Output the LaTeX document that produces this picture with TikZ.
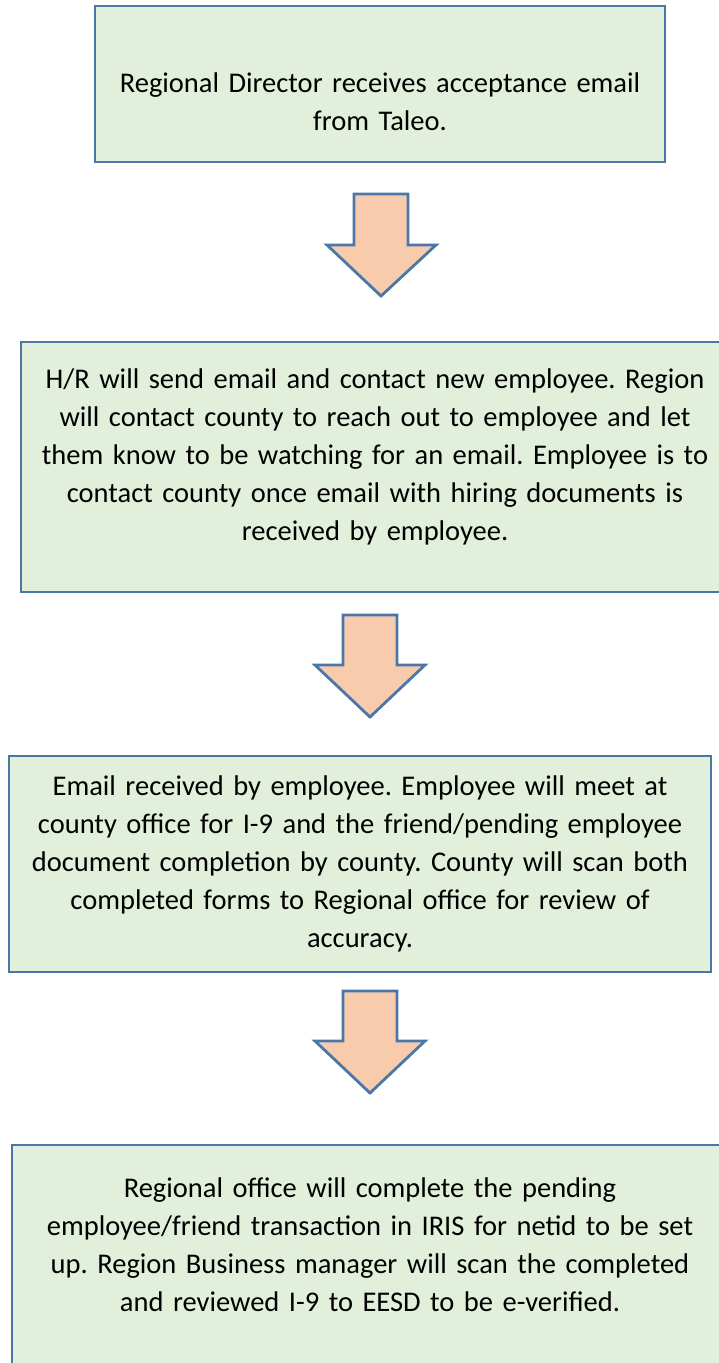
\documentclass[tikz,border=0pt]{standalone}
\usepackage{fontspec}
\setmainfont{Carlito}
\frenchspacing
\definecolor{boxfill}{HTML}{E2EFDA}
\definecolor{boxline}{HTML}{4A76A8}
\definecolor{arrfill}{HTML}{F8CBAD}
\tikzset{
  stepbox/.style={draw=boxline, fill=boxfill, line width=2.5pt},
  blockarrow/.style={draw=boxline, fill=arrfill, line width=2.8pt, line join=miter},
  steptext/.style={anchor=base, text width=700pt, align=center, inner sep=0pt,
    font=\fontsize{28.5}{38}\selectfont\frenchspacing},
}
\begin{document}
\begin{tikzpicture}[x=1pt, y=-1pt]
\useasboundingbox (0,0) rectangle (718,1363);
% boxes
\draw[stepbox] (95,6) rectangle (665,162);
\node[steptext] (t1) at (380,92) {Regional Director receives acceptance email\\from Taleo.};
\draw[stepbox] (21,342) rectangle (729,592);
\node[steptext] (t2) at (375,388) {H/R will send email and contact new employee. Region\\will contact county to reach out to employee and let\\them know to be watching for an email. Employee is to\\contact county once email with hiring documents is\\received by employee.};
\draw[stepbox] (9,756) rectangle (711,972);
\node[steptext] (t3) at (360,795) {Email received by employee. Employee will meet at\\county office for I-9 and the friend/pending employee\\document completion by county. County will scan both\\completed forms to Regional office for review of\\accuracy.};
\draw[stepbox] (12,1145) rectangle (728,1400);
\node[steptext] (t4) at (370,1197) {Regional office will complete the pending\\employee/friend transaction in IRIS for netid to be set\\up. Region Business manager will scan the completed\\and reviewed I-9 to EESD to be e-verified.};
% block arrows
\draw[blockarrow] (354,194) -- (408,194) -- (408,245) -- (436,245) -- (381,296) -- (327,245) -- (354,245) -- cycle;
\draw[blockarrow] (343,615) -- (397,615) -- (397,665) -- (425,665) -- (370,717) -- (315,665) -- (343,665) -- cycle;
\draw[blockarrow] (343,991) -- (397,991) -- (397,1041) -- (425,1041) -- (370,1093) -- (315,1041) -- (343,1041) -- cycle;
\end{tikzpicture}
\end{document}
